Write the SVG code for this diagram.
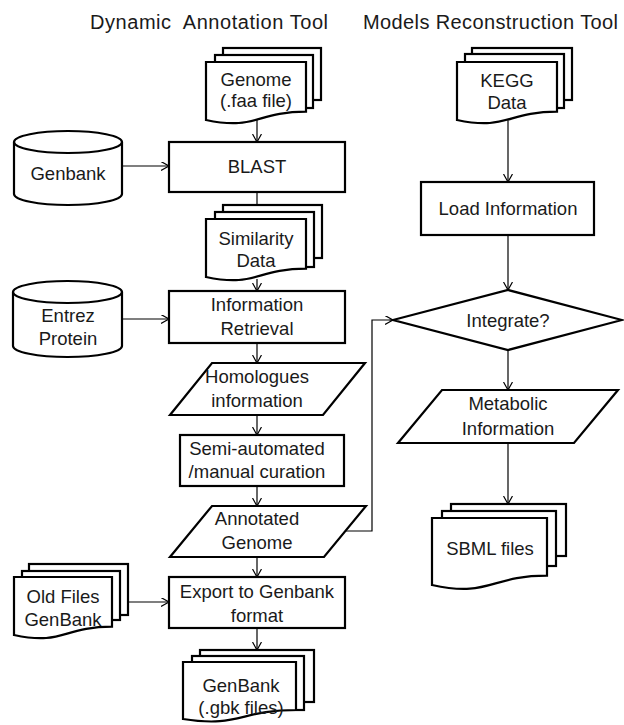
<svg xmlns="http://www.w3.org/2000/svg" width="624" height="725" viewBox="0 0 624 725">
<defs>
<marker id="arr" markerUnits="userSpaceOnUse" markerWidth="10" markerHeight="10" refX="8" refY="4.5" orient="auto">
<path d="M0,0 L8,4.5 L0,9" fill="none" stroke="#000" stroke-width="1.2"/>
</marker>
</defs>
<style>
.s{fill:#fff;stroke:#000;stroke-width:2.2;stroke-linejoin:miter}
.c{fill:none;stroke:#000;stroke-width:1.2;marker-end:url(#arr)}
text{font-family:"Liberation Sans",Arial,sans-serif;font-size:18.5px;fill:#1a1a1a;text-anchor:middle}
.t{font-size:20px;text-anchor:start}
</style>
<rect width="624" height="725" fill="#fff"/>
<g id="titles">
<text class="t" x="90" y="29" textLength="238" lengthAdjust="spacing" xml:space="preserve">Dynamic  Annotation Tool</text>
<text class="t" x="363" y="29" textLength="255" lengthAdjust="spacing">Models Reconstruction Tool</text>
</g>
<g id="connectors">
<path class="c" d="M257,120 V142"/>
<path class="c" d="M122,166 H169"/>
<path class="c" d="M257,192 V219"/>
<path class="c" d="M257,279 V291"/>
<path class="c" d="M122,319 H169"/>
<path class="c" d="M257,343 V363"/>
<path class="c" d="M257,415 V435"/>
<path class="c" d="M257,486 V506"/>
<path class="c" d="M345,531 H372 V320 H393"/>
<path class="c" d="M257,557 V577"/>
<path class="c" d="M128,602 H169"/>
<path class="c" d="M257,628 V650"/>
<path class="c" d="M508,118 V182"/>
<path class="c" d="M508,235 V290"/>
<path class="c" d="M508,350 V390"/>
<path class="c" d="M508,443 V504"/>
</g>
<g id="genome">
<rect class="s" x="223" y="48" width="98" height="52"/>
<rect class="s" x="215" y="55" width="98" height="53"/>
<path class="s" d="M206,62 H306 V111.7 C256,111.7 256,130.6 206,120 Z"/>
<text x="256" y="86">Genome</text>
<text x="256" y="107">(.faa file)</text>
</g>
<g id="blast">
<rect class="s" x="169" y="142" width="176" height="50"/>
<text x="257" y="173">BLAST</text>
</g>
<g id="genbank-db">
<path class="s" d="M14,142 A54,11 0 0 1 122,142 V194 A54,11 0 0 1 14,194 Z"/>
<path class="s" d="M14,142 A54,11 0 0 0 122,142" fill="none"/>
<text x="68" y="180">Genbank</text>
</g>
<g id="similarity">
<rect class="s" x="223" y="205" width="99" height="53"/>
<rect class="s" x="215" y="212" width="99" height="55"/>
<path class="s" d="M206,219 H306 V268.7 C256,268.7 256,287.6 206,277 Z"/>
<text x="256" y="245">Similarity</text>
<text x="256" y="267">Data</text>
</g>
<g id="entrez">
<path class="s" d="M13,292 A54.5,11 0 0 1 122,292 V346 A54.5,11 0 0 1 13,346 Z"/>
<path class="s" d="M13,292 A54.5,11 0 0 0 122,292" fill="none"/>
<text x="68" y="322">Entrez</text>
<text x="68" y="345">Protein</text>
</g>
<g id="info-retrieval">
<rect class="s" x="169" y="291" width="176" height="52"/>
<text x="257" y="311">Information</text>
<text x="257" y="335">Retrieval</text>
</g>
<g id="homologues">
<path class="s" d="M212,363 H365 L323,415 H170 Z"/>
<text x="257" y="383">Homologues</text>
<text x="257" y="407">information</text>
</g>
<g id="curation">
<rect class="s" x="180" y="435" width="164" height="51"/>
<text x="257" y="455">Semi-automated</text>
<text x="257" y="478">/manual curation</text>
</g>
<g id="annotated">
<path class="s" d="M212,506 H366 L324,557 H170 Z"/>
<text x="257" y="525">Annotated</text>
<text x="257" y="549">Genome</text>
</g>
<g id="old-files">
<rect class="s" x="29" y="564" width="99" height="51"/>
<rect class="s" x="22" y="571" width="98" height="49"/>
<path class="s" d="M14,577 H112 V626.7 C63,626.7 63,645.6 14,635 Z"/>
<text x="63" y="603">Old Files</text>
<text x="63" y="626">GenBank</text>
</g>
<g id="export">
<rect class="s" x="169" y="577" width="176" height="51"/>
<text x="257" y="598">Export to Genbank</text>
<text x="257" y="622">format</text>
</g>
<g id="genbank-files">
<rect class="s" x="200" y="650" width="114" height="52"/>
<rect class="s" x="192" y="656" width="112" height="54"/>
<path class="s" d="M183,662 H296 V710 C239.5,710 239.5,728 183,719 Z"/>
<text x="241" y="692">GenBank</text>
<text x="241" y="714">(.gbk files)</text>
</g>
<g id="kegg">
<rect class="s" x="472" y="48" width="100" height="52"/>
<rect class="s" x="465" y="54" width="99" height="54"/>
<path class="s" d="M457,62 H557 V111.7 C507,111.7 507,130.6 457,120 Z"/>
<text x="507" y="87">KEGG</text>
<text x="507" y="109">Data</text>
</g>
<g id="load">
<rect class="s" x="421" y="182" width="173" height="53"/>
<text x="508" y="215">Load Information</text>
</g>
<g id="integrate">
<path class="s" d="M393,320 L508,290 L622,320 L508,350 Z"/>
<text x="508" y="327">Integrate?</text>
</g>
<g id="metabolic">
<path class="s" d="M442,390 H618 L574,443 H398 Z"/>
<text x="508" y="410">Metabolic</text>
<text x="508" y="435">Information</text>
</g>
<g id="sbml">
<rect class="s" x="451" y="504" width="115" height="52"/>
<rect class="s" x="442" y="511" width="114" height="55"/>
<path class="s" d="M432,518 H547 V575.7 C489.5,575.7 489.5,597.7 432,585 Z"/>
<text x="490" y="555">SBML files</text>
</g>
</svg>
